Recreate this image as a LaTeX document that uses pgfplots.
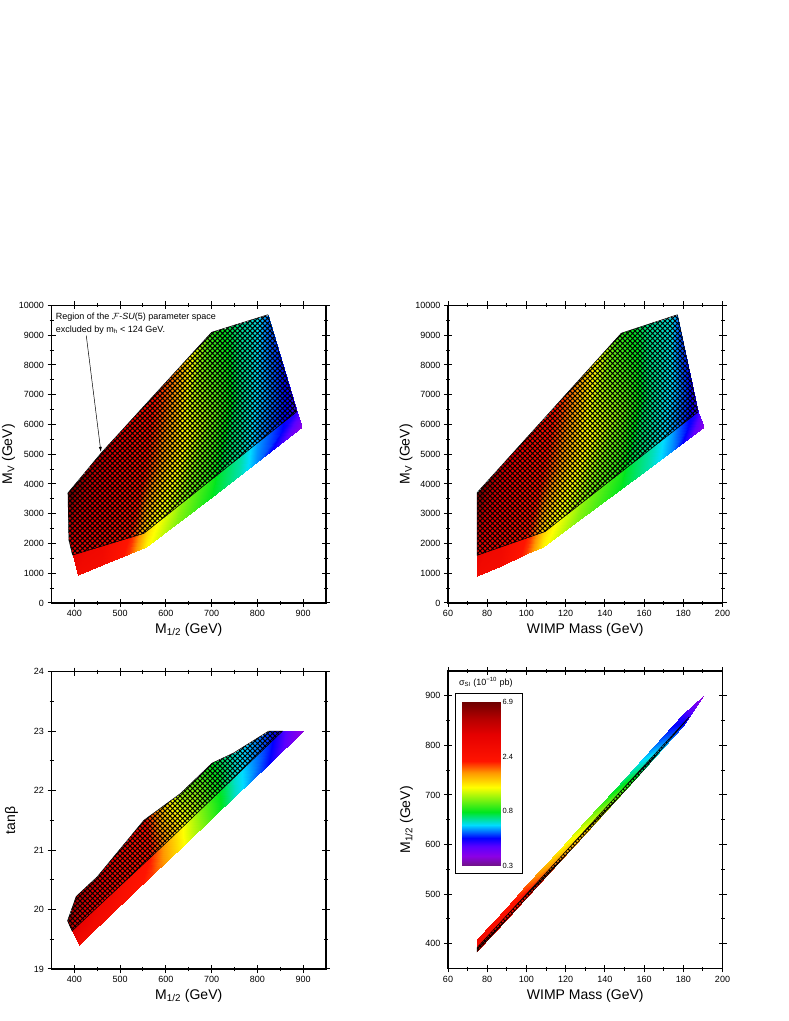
\documentclass[border=0pt]{standalone}
\usepackage{fontspec}
\setmainfont{Liberation Sans}
\usepackage{pgfplots}
\pgfplotsset{compat=1.18}
\usetikzlibrary{patterns.meta,arrows.meta}

\pgfplotsset{
 colormap={sirainbow}{
  rgb255(0pt)=(110,20,130)
  rgb255(6pt)=(140,0,230)
  rgb255(12pt)=(90,0,255)
  rgb255(17pt)=(0,0,255)
  rgb255(25pt)=(0,220,255)
  rgb255(33pt)=(0,230,30)
  rgb255(48pt)=(255,255,0)
  rgb255(57pt)=(255,150,0)
  rgb255(64pt)=(255,20,0)
  rgb255(80pt)=(230,0,0)
  rgb255(90pt)=(180,0,0)
  rgb255(100pt)=(110,0,0)
 },
 base/.style={
  scale only axis, width=274.5pt, height=297.5pt,
  anchor=south west,
  tick align=center, major tick length=8pt, minor tick length=4pt,
  minor tick num=1,
  axis line style={line width=1.3pt},
  every tick/.append style={line width=1pt, black},
  tick label style={font=\fontsize{9}{10}\selectfont},
  label style={font=\fontsize{14}{16}\selectfont},
  scaled ticks=false,
  /pgf/number format/assume math mode=true,
  /pgf/number format/1000 sep={},
  point meta min=0, point meta max=100,
  colormap name=sirainbow,
  xlabel style={at={([yshift=-27pt]rel axis cs:0.5,0)}, anchor=center},
 },
 ylab/.style={ylabel style={at={([xshift=-#1]rel axis cs:0,0.5)}, anchor=center}},
 xhatch/.style={draw=black, line width=0.5pt, pattern={Hatch[angle=45,distance=3.536pt,line width=1.05pt]}, pattern color=black},
 conn/.style={table/row sep=\\, patch table={
0 3 4\\0 4 1\\1 4 5\\1 5 2\\
3 6 7\\3 7 4\\4 7 8\\4 8 5\\
6 9 10\\6 10 7\\7 10 11\\7 11 8\\
9 12 13\\9 13 10\\10 13 14\\10 14 11\\
12 15 16\\12 16 13\\13 16 17\\13 17 14\\
15 18 19\\15 19 16\\16 19 20\\16 20 17\\
18 21 22\\18 22 19\\19 22 23\\19 23 20\\
21 24 25\\21 25 22\\22 25 26\\22 26 23\\
 }},
}

\begin{document}
\begin{tikzpicture}
\useasboundingbox (0pt,0pt) rectangle (789pt,1021pt);

% ---------- Panel 1: M_V vs M_1/2 ----------
\begin{axis}[base, ylab=43pt, at={(51.5pt,418pt)},
  xmin=350, xmax=950, ymin=0, ymax=10000,
  xtick={400,500,...,900}, ytick={0,1000,...,10000},
  xlabel={M\textsubscript{1/2} (GeV)}, ylabel={M\textsubscript{V} (GeV)}]
\addplot[patch, shader=interp, conn] table[point meta=\thisrow{c}] {
x y c\\
409 940 72\\ 388 2114 83\\ 386 3700 100\\
460 1265 71\\ 460 3300 78\\ 460 5060 86\\
520 1648 62\\ 520 3750 69\\ 520 6068 75\\
557 1869 49\\ 555 4200 63\\ 555 6656 67\\
620 2616 41\\ 620 5200 52\\ 620 7748 58\\
700 3565 33\\ 700 6300 40\\ 700 9100 36\\
760 4277 28\\ 760 6900 30\\ 760 9388 29\\
800 4751 22\\ 800 7200 25\\ 800 9580 26\\
897 5900 6\\ 886 6430 14\\ 823 9690 21\\
};
\addplot[xhatch] coordinates {(386,3700) (459,5050) (700,9100) (823,9690) (886,6430) (552,2340) (396,1611) (388,2114)} -- cycle;
\draw[line width=0.5pt, -{Latex[length=5pt,width=3pt]}] (axis cs:426,8990) -- (axis cs:458,5080);
\node[anchor=west, inner sep=0pt, font=\fontsize{9}{10}\selectfont] at (axis cs:359,9607) {Region of the $\mathcal{F}$-\textit{SU}(5) parameter space};
\node[anchor=west, inner sep=0pt, font=\fontsize{9}{10}\selectfont] at (axis cs:359,9184) {excluded by m\textsubscript{h} < 124 GeV.};
\end{axis}

% ---------- Panel 2: M_V vs WIMP mass ----------
\begin{axis}[base, ylab=42pt, at={(448pt,418pt)},
  xmin=60, xmax=200, ymin=0, ymax=10000,
  xtick={60,80,...,200}, ytick={0,1000,...,10000},
  xlabel={WIMP Mass (GeV)}, ylabel={M\textsubscript{V} (GeV)}]
\addplot[patch, shader=interp, conn] table[point meta=\thisrow{c}] {
x y c\\
74.8 907 72\\ 74.8 2114 83\\ 74.8 3707 100\\
87 1260 71\\ 87 3300 78\\ 87 4596 86\\
100 1635 62\\ 100 3750 69\\ 100 5543 75\\
108.5 1880 49\\ 108.5 4100 63\\ 108.5 6163 68\\
125 2692 41\\ 125 5100 52\\ 125 7365 58\\
148.4 3843 33\\ 148.4 6400 40\\ 148.4 9070 36\\
162 4512 28\\ 162 7000 30\\ 162 9365 29\\
174 5102 22\\ 174 7500 25\\ 174 9625 26\\
190.4 5910 6\\ 187.5 6420 14\\ 177 9690 21\\
};
\addplot[xhatch] coordinates {(74.8,3707) (148.4,9070) (177,9690) (187.5,6420) (109.5,2400) (74.8,1601)} -- cycle;
\end{axis}

% ---------- Panel 3: tan beta vs M_1/2 ----------
\begin{axis}[base, ylab=40pt, at={(51.5pt,52pt)},
  xmin=350, xmax=950, ymin=19, ymax=24,
  xtick={400,500,...,900}, ytick={19,20,...,24},
  xlabel={M\textsubscript{1/2} (GeV)}, ylabel={tanβ}]
\addplot[patch, shader=interp, conn] table[point meta=\thisrow{c}] {
x y c\\
409.5 19.40 72\\ 395 19.64 83\\ 385 19.81 97\\
430 19.55 72\\ 417 19.88 80\\ 404 20.22 91\\
480 19.92 70\\ 465 20.25 75\\ 450 20.55 83\\
570 20.58 62\\ 561 21.04 65\\ 552 21.50 65\\
640 21.09 48\\ 636 21.52 48\\ 632 21.95 42\\
705 21.57 36\\ 703 22.01 35\\ 701 22.46 33\\
752 21.91 27\\ 750 22.27 27\\ 748 22.63 27\\
825 22.45 17\\ 825 22.72 18\\ 825 23.0 19\\
900 23.0 5\\ 900 23.0 5\\ 900 23.0 5\\
};
\addplot[xhatch] coordinates {(385,19.81) (404,20.22) (450,20.55) (552,21.50) (632,21.95) (701,22.46) (748,22.63) (825,23.0) (855,23.0) (610,21.19) (395,19.64)} -- cycle;
\end{axis}

% ---------- Panel 4: M_1/2 vs WIMP mass ----------
\begin{axis}[base, ylab=41.5pt, at={(448pt,52.5pt)},
  xmin=60, xmax=200, ymin=350, ymax=950,
  xtick={60,80,...,200}, ytick={400,500,...,900},
  xlabel={WIMP Mass (GeV)}, ylabel={M\textsubscript{1/2} (GeV)}]
\addplot[patch, shader=interp, conn] table[point meta=\thisrow{c}] {
x y c\\
74.8 385 70\\ 74.8 397 72\\ 74.8 410 74\\
90 450 70\\ 90 462 68\\ 90 475 66\\
100 493 68\\ 100 505 64\\ 100 518 60\\
117 566 60\\ 117 578 54\\ 117 591 49\\
130 622 55\\ 130 634 47\\ 130 647 42\\
145 687 42\\ 145 699 37\\ 145 712 32\\
160 752 30\\ 160 764 27\\ 160 777 24\\
180 840 18\\ 180 851 16\\ 180 864 14\\
190.3 900 5\\ 190.3 900 5\\ 190.3 900 5\\
};
\addplot[xhatch] coordinates {(74.8,384) (100,492) (130,621) (160,751) (183,857) (160,759) (130,629) (100,500) (74.8,392)} -- cycle;
\draw[line width=1pt, fill=white] (rel axis cs:0.029,0.318) rectangle (rel axis cs:0.270,0.926);
\node[font=\fontsize{9}{10}\selectfont] at (rel axis cs:0.138,0.963) {σ\textsubscript{SI} (10\textsuperscript{−10} pb)};
\end{axis}

% ---------- colour scale of panel 4 ----------
\begin{axis}[at={(462.3pt,155pt)}, anchor=south west,
  scale only axis, width=38.4pt, height=164.3pt,
  xmin=0, xmax=1, ymin=0, ymax=100,
  axis line style={draw=none}, xtick=\empty,
  ytick={0,33.3,66.7,100}, yticklabels={0.3,0.8,2.4,6.9},
  yticklabel pos=right, major tick length=0pt,
  tick label style={font=\fontsize{7.5}{8}\selectfont},
  yticklabel style={xshift=-1.5pt},
  point meta min=0, point meta max=100, colormap name=sirainbow]
\addplot[patch, shader=interp, table/row sep=\\, patch table={0 1 2\\0 2 3\\}] table[point meta=\thisrow{c}] {
x y c\\
0 0 0\\ 1 0 0\\ 1 100 100\\ 0 100 100\\
};
\end{axis}
\end{tikzpicture}
\end{document}
